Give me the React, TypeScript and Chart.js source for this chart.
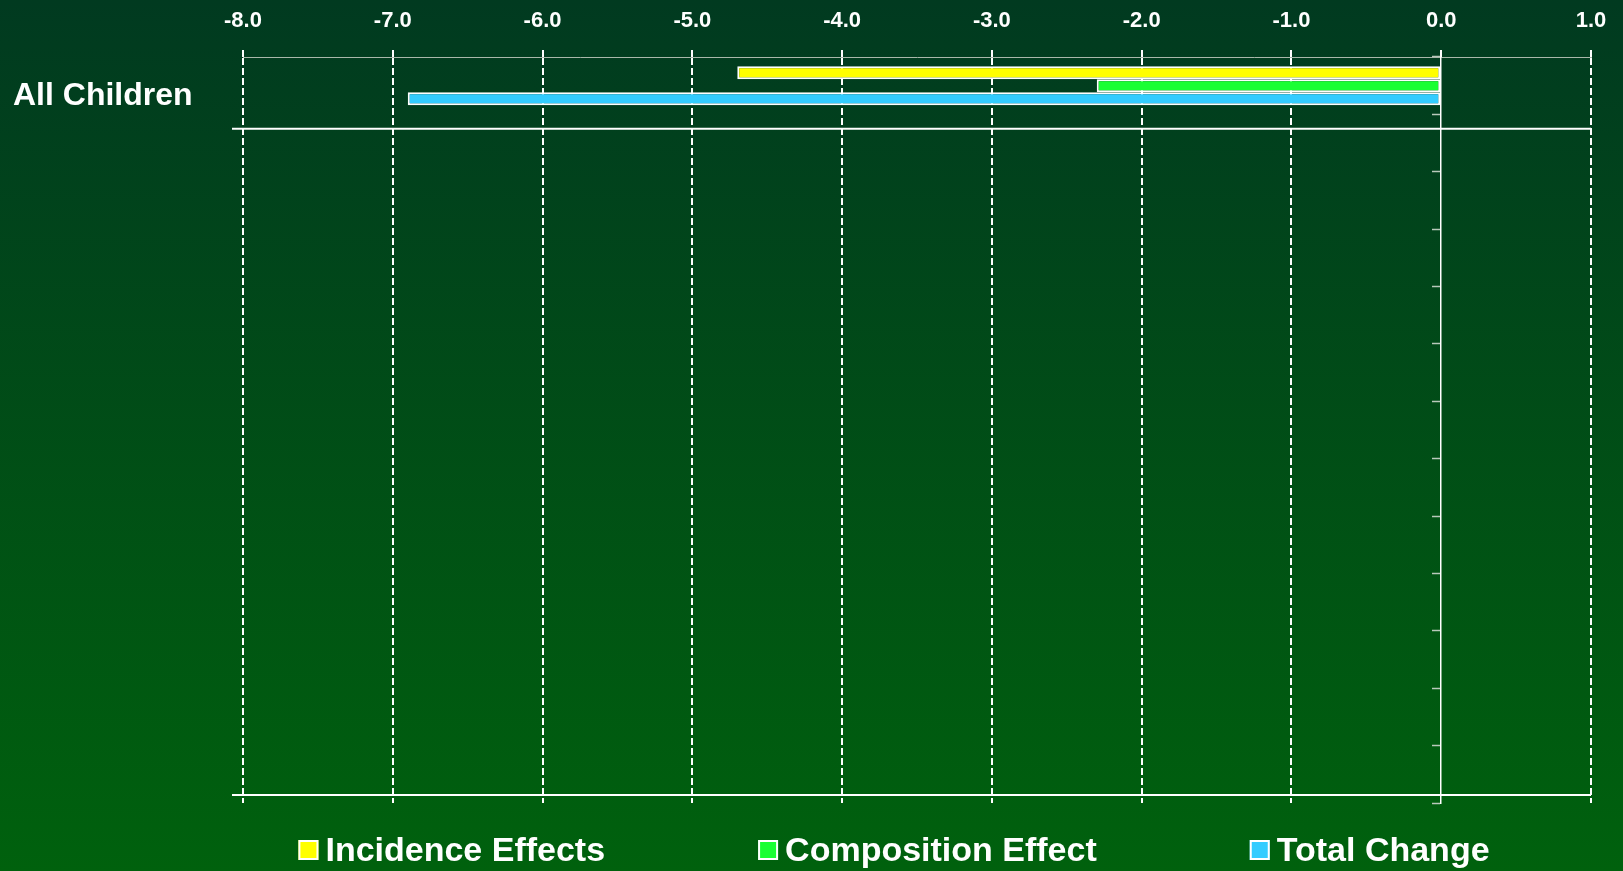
import React, { useEffect, useRef } from "react";
import { Chart, registerables } from "chart.js";

Chart.register(...registerables);

const FONT = "'Liberation Sans', Arial, Helvetica, sans-serif";

const categories = ["All Children", "", "", "", "", "", "", "", "", "", "", "", ""];
const seriesNames = ["Incidence Effects", "Composition Effect", "Total Change"];
const incidenceValues = [-4.7];
const compositionValues = [-2.3];
const totalValues = [-6.9];
const seriesColors = ["#ffff00", "#1aff33", "#33ccff"];
const xMin = -8;
const xMax = 1;
const xStep = 1;

const backgroundPlugin = {
  id: "bgGradient",
  beforeDraw(chart: any) {
    const { ctx, width, height } = chart;
    const g = ctx.createLinearGradient(0, 0, 0, height);
    g.addColorStop(0, "#013a20");
    g.addColorStop(1, "#00610d");
    ctx.save();
    ctx.fillStyle = g;
    ctx.fillRect(0, 0, width, height);
    ctx.restore();
  },
};

const separatorPlugin = {
  id: "separators",
  beforeDatasetsDraw(chart: any) {
    const { ctx, chartArea, scales } = chart;
    const y = scales.y;
    const rows = [y.getPixelForValue(0.75), chartArea.bottom - 8];
    ctx.save();
    ctx.strokeStyle = "#ffffff";
    ctx.lineWidth = 2;
    rows.forEach((py: number) => {
      ctx.beginPath();
      ctx.moveTo(chartArea.left - 11, py);
      ctx.lineTo(chartArea.right, py);
      ctx.stroke();
    });
    ctx.restore();
  },
};

const legendPlugin = {
  id: "customLegend",
  afterDraw(chart: any) {
    const { ctx, chartArea } = chart;
    const ds = chart.data.datasets;
    ctx.save();
    ctx.font = `bold 34px ${FONT}`;
    const box = 20;
    const boxGap = 7;
    const gap = 153;
    const widths = ds.map((d: any) => ctx.measureText(d.label).width);
    const total =
      widths.reduce((a: number, w: number) => a + box + boxGap + w, 0) + gap * (ds.length - 1);
    let x = (chartArea.left + chartArea.right) / 2 - 23 - total / 2;
    const baseline = chartArea.bottom + 58;
    ds.forEach((d: any, i: number) => {
      ctx.fillStyle = d.backgroundColor;
      ctx.fillRect(x, baseline - 21, box, box);
      ctx.strokeStyle = "#ffffff";
      ctx.lineWidth = 2;
      ctx.strokeRect(x + 1, baseline - 20, box - 2, box - 2);
      ctx.fillStyle = "#ffffff";
      ctx.textBaseline = "alphabetic";
      ctx.textAlign = "left";
      ctx.fillText(d.label, x + box + boxGap, baseline);
      x += box + boxGap + widths[i] + gap;
    });
    ctx.restore();
  },
};

export default function App() {
  const ref = useRef<HTMLCanvasElement>(null);

  useEffect(() => {
    document.body.style.margin = "0";
    document.body.style.overflow = "hidden";
    document.body.style.background = "#004d18";
    if (!ref.current) return;

    const seriesData = [incidenceValues, compositionValues, totalValues];

    const chart = new Chart(ref.current, {
      type: "bar",
      data: {
        labels: categories,
        datasets: seriesNames.map((name, i) => ({
          label: name,
          data: seriesData[i],
          backgroundColor: seriesColors[i],
          borderColor: "#ffffff",
          borderWidth: 2,
          borderSkipped: false,
          barPercentage: 1,
          categoryPercentage: 0.68,
          yAxisID: "y",
        })),
      },
      options: {
        indexAxis: "y",
        responsive: true,
        maintainAspectRatio: false,
        animation: false,
        layout: { padding: { top: 0, left: 13, right: 32, bottom: 68 } },
        plugins: {
          legend: { display: false },
          tooltip: { enabled: false },
        },
        scales: {
          x: {
            type: "linear",
            position: "top",
            min: xMin,
            max: xMax,
            ticks: {
              stepSize: xStep,
              callback: (v: any) => Number(v).toFixed(1),
              color: "#ffffff",
              font: { family: FONT, size: 22, weight: "bold" },
              padding: 16,
              maxRotation: 0,
            },
            grid: {
              color: (c: any) => (c.tick && c.tick.value === 0 ? "rgba(0,0,0,0)" : "#ffffff"),
              lineWidth: 2,
              tickLength: 7,
              tickColor: "#ffffff",
              tickWidth: 2,
            },
            border: { display: true, color: "#a9b8aa", width: 1, dash: [7, 3] },
            afterFit: (s: any) => {
              s.height = 57;
            },
          },
          y: {
            type: "category",
            position: "left",
            offset: true,
            grid: { display: false, drawTicks: false },
            border: { display: false },
            ticks: {
              color: "#ffffff",
              font: { family: FONT, size: 32, weight: "bold" },
              crossAlign: "far",
              labelOffset: 10,
              padding: 0,
              autoSkip: false,
            },
            afterFit: (s: any) => {
              s.width = 230;
            },
          },
          y0: {
            type: "category",
            axis: "y",
            labels: categories,
            position: { x: 0 },
            offset: true,
            grid: {
              offset: true,
              drawOnChartArea: false,
              drawTicks: true,
              tickLength: 8,
              color: "#b9c9bb",
              tickWidth: 1.5,
            },
            border: { display: true, color: "#ffffff", width: 1.5 },
            ticks: { display: false, autoSkip: false },
          },
        } as any,
      },
      plugins: [backgroundPlugin, separatorPlugin, legendPlugin],
    } as any);

    return () => chart.destroy();
  }, []);

  return (
    <div style={{ position: "relative", width: "100vw", height: "100vh" }}>
      <canvas ref={ref} />
    </div>
  );
}
